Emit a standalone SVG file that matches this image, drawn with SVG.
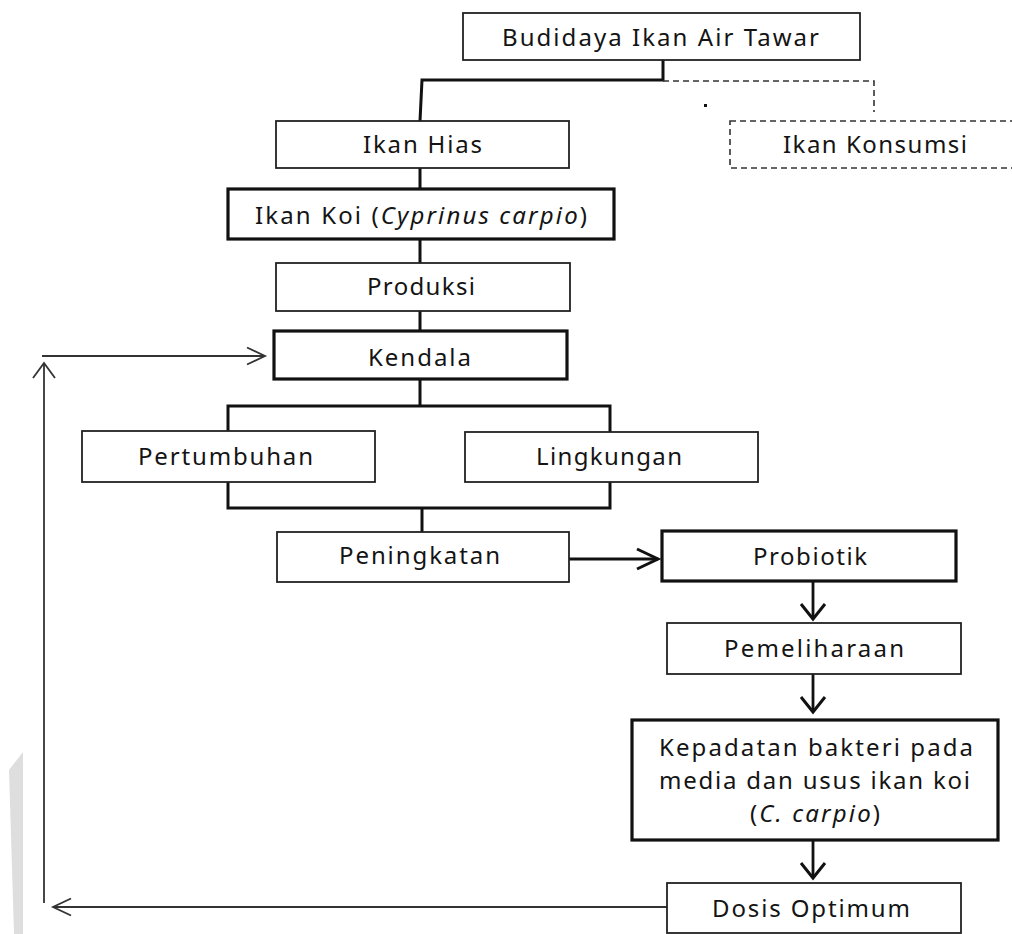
<svg xmlns="http://www.w3.org/2000/svg" width="1012" height="934" viewBox="0 0 1012 934">
<style>
.box{fill:#fff;stroke:#222;stroke-width:1.8}
.bold{fill:#fff;stroke:#111;stroke-width:3.2}
.dash{fill:none;stroke:#333;stroke-width:1.6;stroke-dasharray:6 4}
.t{font-family:"Noto Sans","Open Sans",sans-serif;font-size:24px;font-weight:450;fill:#141414}
.i{font-style:italic}
.tree{fill:none;stroke:#111;stroke-width:3}
.thick{fill:none;stroke:#111;stroke-width:2.8}
.thin{fill:none;stroke:#333;stroke-width:1.8}
</style>
<defs>
<marker id="chev" viewBox="-18 -14 22 28" refX="0" refY="0" markerWidth="22" markerHeight="28" markerUnits="userSpaceOnUse" orient="auto" overflow="visible">
<path d="M-15,-12 L0,0 L-15,12" fill="none" stroke="#111" stroke-width="3"/>
</marker>
<marker id="chevR" viewBox="-24 -12 28 24" refX="0" refY="0" markerWidth="28" markerHeight="24" markerUnits="userSpaceOnUse" orient="auto" overflow="visible">
<path d="M-21,-10 L0,0 L-21,10" fill="none" stroke="#111" stroke-width="3"/>
</marker>
<marker id="chevT" viewBox="-20 -12 24 24" refX="0" refY="0" markerWidth="24" markerHeight="24" markerUnits="userSpaceOnUse" orient="auto" overflow="visible">
<path d="M-18,-8.5 L0,0 L-18,8.5" fill="none" stroke="#333" stroke-width="1.8"/>
</marker>
<marker id="chevU" viewBox="-20 -14 24 28" refX="0" refY="0" markerWidth="24" markerHeight="28" markerUnits="userSpaceOnUse" orient="auto" overflow="visible">
<path d="M-15,-11 L0,0 L-15,11" fill="none" stroke="#333" stroke-width="1.8"/>
</marker>
</defs>
<rect width="1012" height="934" fill="#fff"/>
<polygon points="9,770 23,752 23,934 14,934" fill="#dedede"/>

<g id="connectors">
<path class="tree" d="M663,60 V80 H422 L420,121"/>
<path class="dash" d="M663,81 H874 V112"/>
<rect x="704" y="104" width="3" height="3" fill="#111"/>
<path class="tree" d="M420,168 V188"/>
<path class="tree" d="M420,239 V263"/>
<path class="tree" d="M420,311 V330"/>
<path class="tree" d="M420,379 V406"/>
<path class="tree" d="M228,431 V406 H610 V432"/>
<path class="tree" d="M228,482 V508 H610 V482"/>
<path class="tree" d="M422,508 V532"/>
<path class="thick" d="M569,559 H658" marker-end="url(#chevR)"/>
<path class="thick" d="M813,582 V619" marker-end="url(#chev)"/>
<path class="thick" d="M813,674 V712" marker-end="url(#chev)"/>
<path class="thick" d="M813,840 V878" marker-end="url(#chev)"/>
<path class="thin" d="M667,907 H53" marker-end="url(#chevT)"/>
<path class="thin" d="M44,903 V363" marker-end="url(#chevU)"/>
<path class="thin" d="M42,356 H265" marker-end="url(#chevT)"/>
</g>

<g id="n-budidaya">
<rect class="box" x="463" y="13" width="397" height="47"/>
<text class="t" x="502" y="46" textLength="317" lengthAdjust="spacing">Budidaya Ikan Air Tawar</text>
</g>
<g id="n-konsumsi">
<rect class="dash" x="730" y="121" width="300" height="47"/>
<text class="t" x="783" y="153" textLength="184" lengthAdjust="spacing">Ikan Konsumsi</text>
</g>
<g id="n-hias">
<rect class="box" x="276" y="121" width="293" height="47"/>
<text class="t" x="363" y="153" textLength="119" lengthAdjust="spacing">Ikan Hias</text>
</g>
<g id="n-koi">
<rect class="bold" x="228" y="189" width="386" height="50"/>
<text class="t" x="255" y="224" textLength="332" lengthAdjust="spacing">Ikan Koi (<tspan class="i">Cyprinus carpio</tspan>)</text>
</g>
<g id="n-produksi">
<rect class="box" x="276" y="263" width="294" height="48"/>
<text class="t" x="367" y="295" textLength="108" lengthAdjust="spacing">Produksi</text>
</g>
<g id="n-kendala">
<rect class="bold" x="274" y="331" width="293" height="48"/>
<text class="t" x="368" y="366" textLength="103" lengthAdjust="spacing">Kendala</text>
</g>
<g id="n-pertumbuhan">
<rect class="box" x="82" y="431" width="293" height="51"/>
<text class="t" x="138" y="465" textLength="175" lengthAdjust="spacing">Pertumbuhan</text>
</g>
<g id="n-lingkungan">
<rect class="box" x="465" y="432" width="293" height="50"/>
<text class="t" x="536" y="465" textLength="146" lengthAdjust="spacing">Lingkungan</text>
</g>
<g id="n-peningkatan">
<rect class="box" x="277" y="532" width="292" height="50"/>
<text class="t" x="339" y="564" textLength="161" lengthAdjust="spacing">Peningkatan</text>
</g>
<g id="n-probiotik">
<rect class="bold" x="662" y="531" width="294" height="50"/>
<text class="t" x="753" y="565" textLength="114" lengthAdjust="spacing">Probiotik</text>
</g>
<g id="n-pemeliharaan">
<rect class="box" x="667" y="623" width="294" height="51"/>
<text class="t" x="724" y="657" textLength="180" lengthAdjust="spacing">Pemeliharaan</text>
</g>
<g id="n-kepadatan">
<rect class="bold" x="632" y="720" width="366" height="120"/>
<text class="t" x="659" y="756" textLength="314" lengthAdjust="spacing">Kepadatan bakteri pada</text>
<text class="t" x="659" y="789" textLength="311" lengthAdjust="spacing">media dan usus ikan koi</text>
<text class="t" x="750" y="822" textLength="130" lengthAdjust="spacing">(<tspan class="i">C. carpio</tspan>)</text>
</g>
<g id="n-dosis">
<rect class="box" x="667" y="883" width="294" height="50"/>
<text class="t" x="712" y="917" textLength="198" lengthAdjust="spacing">Dosis Optimum</text>
</g>
</svg>
